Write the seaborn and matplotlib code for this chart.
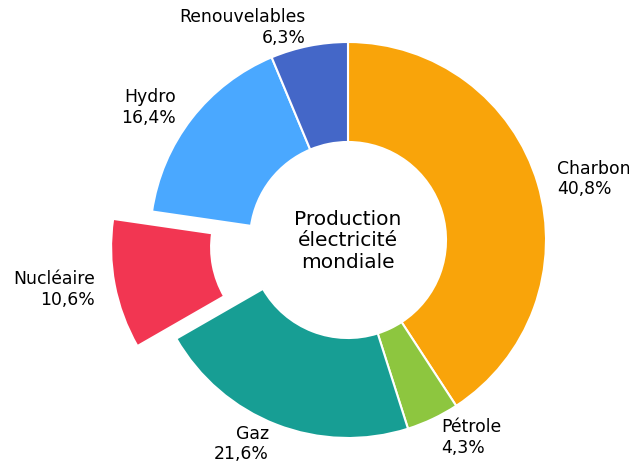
import matplotlib
matplotlib.use("Agg")
import matplotlib.pyplot as plt
import seaborn as sns

categories = ["Charbon", "Pétrole", "Gaz", "Nucléaire", "Hydro", "Renouvelables"]
values = [40.8, 4.3, 21.6, 10.6, 16.4, 6.3]
value_labels = ["40,8%", "4,3%", "21,6%", "10,6%", "16,4%", "6,3%"]
colors_hex = ["#F9A40A", "#8DC63F", "#179E94", "#F23652", "#4AA8FF", "#4467C8"]
explode = [0, 0, 0, 0.2, 0, 0]
center_title = "Production\nélectricité\nmondiale"

sns.set_theme(style="white")
plt.rcParams['font.family'] = ['DejaVu Sans']
palette = sns.color_palette(colors_hex)

fig = plt.figure(figsize=(6.29, 4.64), dpi=100)
ax = fig.add_axes([0, 0, 1, 1])

R = 198
cx, cy = 348, 464 - 241
labels = [f"{c}\n{v}" for c, v in zip(categories, value_labels)]
wedges, texts = ax.pie(values, labels=labels, colors=palette, startangle=90,
                       counterclock=False, radius=R, center=(cx, cy),
                       explode=[e * R for e in explode], labeldistance=1.1,
                       wedgeprops=dict(width=R * 0.505, edgecolor='white', linewidth=1.5),
                       textprops=dict(fontsize=12.4, color='black'), frame=True)
for t in texts:
    x, y = t.get_position()
    ha = 'left' if x >= cx else 'right'
    t.set_horizontalalignment(ha)
    t.set_multialignment(ha)
ax.set_xlim(0, 629)
ax.set_ylim(0, 464)
ax.set_aspect('equal')
ax.axis('off')
ax.text(cx, cy, center_title, ha='center', va='center', fontsize=14.5,
        color='black', linespacing=1.15)

fig.savefig("out.png", dpi=100)
